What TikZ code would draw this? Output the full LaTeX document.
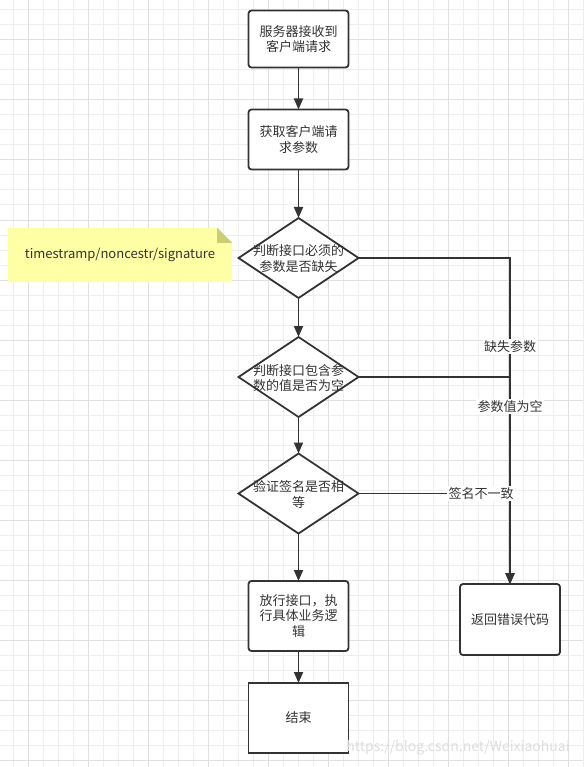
\documentclass[tikz,border=0pt]{standalone}
\usepackage{fontspec}
\setmainfont{Noto Sans CJK SC}
\usepackage{xcolor}
\usetikzlibrary{shapes.geometric,arrows.meta,positioning,backgrounds}
\definecolor{linegray}{HTML}{333333}
\definecolor{gridminor}{HTML}{EEEEEE}
\definecolor{gridmajor}{HTML}{E0E0E0}
\definecolor{notefill}{HTML}{FFFFA5}
\definecolor{notefold}{HTML}{CDCD74}
\tikzstyle{arrow} = [line width=1.8pt,draw=linegray,-{Triangle[length=11pt,width=9pt]}]
\tikzstyle{gridline} = [line width=1pt]

\begin{document}
\begin{tikzpicture}[x=1pt,y=-1pt]
\tikzstyle{every node}=[font=\fontsize{13}{15.5}\selectfont,text=linegray]

\tikzstyle{process}=[rectangle,rounded corners=3pt,draw=linegray,line width=1.8pt,fill=white,
                     minimum width=100pt,align=center,inner sep=0pt,outer sep=0pt]
\tikzstyle{terminal}=[process,sharp corners]
\tikzstyle{decision}=[diamond,draw=linegray,line width=1.8pt,fill=white,
                      minimum width=120pt,minimum height=80pt,inner sep=0pt,outer sep=0pt]
\tikzstyle{dtext}=[align=center,inner sep=0pt]
\tikzstyle{edgelabel}=[fill=white,inner sep=1.5pt]

\useasboundingbox (0,0) rectangle (583,767);

%% Main column
\node [process,minimum height=57pt] (recv) at (298.5,39) {服务器接收到\\客户端请求};
\node [process,minimum height=60pt] (fetch) at (298.5,139.5) {获取客户端请\\求参数};
\node [decision] (chkmiss) at (298.5,258) {};
\node [dtext] (chkmisstext) at (298.5,258.5) {判断接口必须的\\参数是否缺失};
\node [decision] (chkempty) at (298.5,377) {};
\node [dtext] (chkemptytext) at (298.5,378) {判断接口包含参\\数的值是否为空};
\node [decision] (chksign) at (298.5,493.5) {};
\node [dtext] (chksigntext) at (298.5,494.5) {验证签名是否相\\等};
\node [process,minimum height=70pt] (pass) at (298.5,616) {放行接口，执\\行具体业务逻\\辑};
\node [terminal,minimum height=70pt] (finish) at (298.5,718) {结束};

%% Error branch
\node [process,minimum height=71pt] (err) at (510,619.5) {返回错误代码};

%% Note
\node [minimum width=224pt,minimum height=54pt,inner sep=0pt] (note) at (120,255)
      {timestramp/noncestr/signature};

%% Links
\draw[arrow] (recv) -- (fetch);
\draw[arrow] (fetch) -- (chkmiss);
\draw[arrow] (chkmiss) -- (chkempty);
\draw[arrow] (chkempty) -- (chksign);
\draw[arrow] (chksign) -- (pass);
\draw[arrow] (pass) -- (finish);

\draw[arrow] (chkmiss.east) -| node[edgelabel,pos=0.636] (lblmiss) {缺失参数} (err.north);
\draw[arrow] (chkempty.east) -| node[edgelabel,pos=0.572] (lblempty) {参数值为空} (err.north);
\draw[arrow] (chksign.east) -| node[edgelabel,pos=0.405] (lblsign) {签名不一致} (err.north);

%% Watermark
\node [text=black!13,font=\fontsize{14}{16}\selectfont] (wmark) at (458,748)
      {https://blog.csdn.net/Weixiaohuai};

%% Background grid and note paper
\begin{scope}[on background layer]
\fill[white] (0,0) rectangle (583,767);
\foreach \x in {13,28,...,583}
    \draw[gridline,gridminor] (\x,0) -- (\x,767);
\foreach \y in {10,25,...,760}
    \draw[gridline,gridminor] (0,\y) -- (583,\y);
\foreach \x in {28,88,...,568}
    \draw[gridline,gridmajor] (\x,0) -- (\x,767);
\foreach \y in {40,100,...,760}
    \draw[gridline,gridmajor] (0,\y) -- (583,\y);
\fill[notefill] (note.south west) |- ([xshift=-15pt]note.north east)
      -- ([yshift=-15pt]note.north east) -- (note.south east) -- cycle;
\fill[notefold] ([xshift=-15pt]note.north east) -- ([xshift=-15pt,yshift=-15pt]note.north east)
      -- ([yshift=-15pt]note.north east) -- cycle;
\end{scope}

\end{tikzpicture}
\end{document}
